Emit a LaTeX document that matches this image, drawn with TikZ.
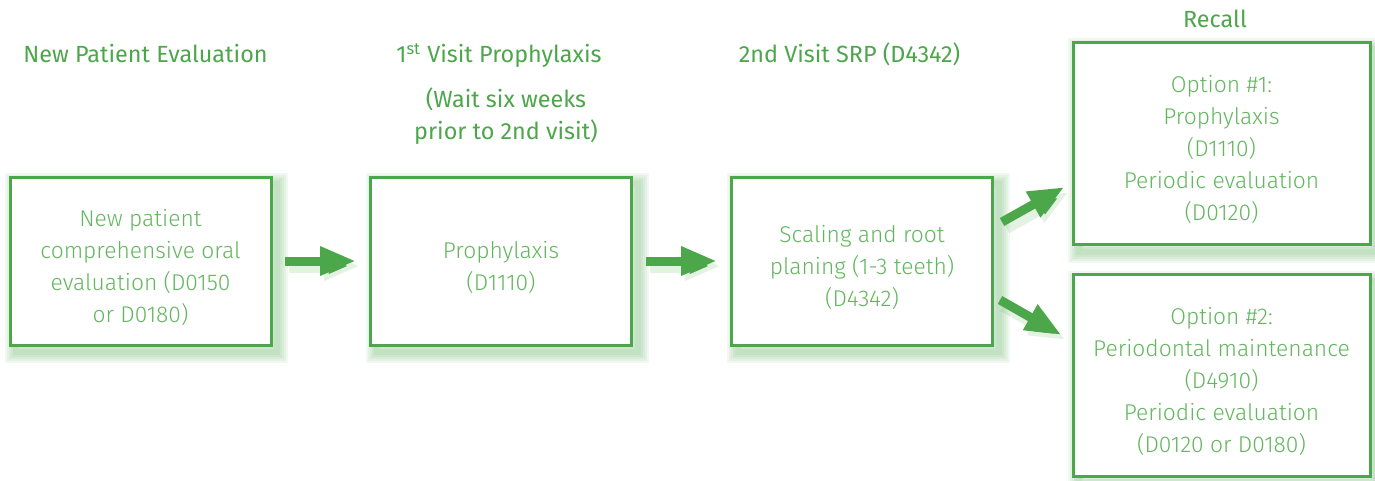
\documentclass[tikz,border=0pt]{standalone}
\usepackage{fontspec}
\setmainfont{Fira Sans Light}
\newfontfamily\headfont{Fira Sans}
\usetikzlibrary{arrows.meta,positioning}

\definecolor{leaf}{HTML}{4CA64A}
\definecolor{leaftext}{HTML}{62B75E}

% pushes the lines of a box a little below its middle
\newcommand{\topstrut}{\rule{0pt}{15pt}}

\tikzset{
  glow/.style={preaction={draw=leaf, draw opacity=0.08, line width=#1,
      transform canvas={shift={(3pt,-3.5pt)}}}},
  box/.style={draw=leaf, line width=1.5pt, fill=white, align=center,
    text=leaftext, font=\fontsize{11.4}{16}\selectfont,
    minimum width=130.5pt, minimum height=84pt,
    glow=11pt, glow=9pt, glow=7pt, glow=5pt, glow=3pt},
  head/.style={text=leaf, anchor=base, align=center,
    font=\headfont\fontsize{11.7}{16}\selectfont},
  flow/.style={leaf, line width=4.5pt, -{Triangle[length=18pt,width=13.5pt]},
    preaction={draw=leaf, draw opacity=0.15, line width=7pt,
      transform canvas={shift={(2pt,-2.5pt)}}}}
}

\begin{document}
\begin{tikzpicture}[x=0.5pt,y=-0.5pt]
  \useasboundingbox (0,0) rectangle (1375,481);

  % column titles
  \node[head] (evalhead) at (145.5,63) {New Patient Evaluation};
  \node[head] (visithead) at (499,63) {1\textsuperscript{st} Visit Prophylaxis};
  \node[head] (waitnote) at (506,140) {(Wait six weeks\\prior to 2nd visit)};
  \node[head] (srphead) at (849.5,63) {2nd Visit SRP (D4342)};
  \node[head] (recallhead) at (1215,28) {Recall};

  % steps
  \node[box] (newpt) at (140.5,261) {\topstrut New patient\\comprehensive oral\\evaluation (D0150\\or D0180)};
  \node[box] (prophy) at (501,261) {\topstrut Prophylaxis\\(D1110)};
  \node[box] (srp) at (862,261) {\topstrut Scaling and root\\planing (1-3 teeth)\\(D4342)};
  \node[box, minimum width=148.5pt, minimum height=101pt] (optone) at (1221.5,143.5)
    {\topstrut Option \#1:\\Prophylaxis\\(D1110)\\Periodic evaluation\\(D0120)};
  \node[box, minimum width=148.5pt, minimum height=101pt] (opttwo) at (1221.5,375.5)
    {\topstrut Option \#2:\\Periodontal maintenance\\(D4910)\\Periodic evaluation\\(D0120 or D0180)};

  % arrows
  \draw[flow, shorten <=6pt, shorten >=6.5pt] (newpt) -- (prophy);
  \draw[flow, shorten <=6.5pt, shorten >=6.5pt] (prophy) -- (srp);
  \draw[flow] ([shift={(8,-39)}]srp.east) -- ([shift={(-7,43.5)}]optone.west);
  \draw[flow] ([shift={(6,39)}]srp.east) -- ([shift={(-10,-40.5)}]opttwo.west);

\end{tikzpicture}
\end{document}
